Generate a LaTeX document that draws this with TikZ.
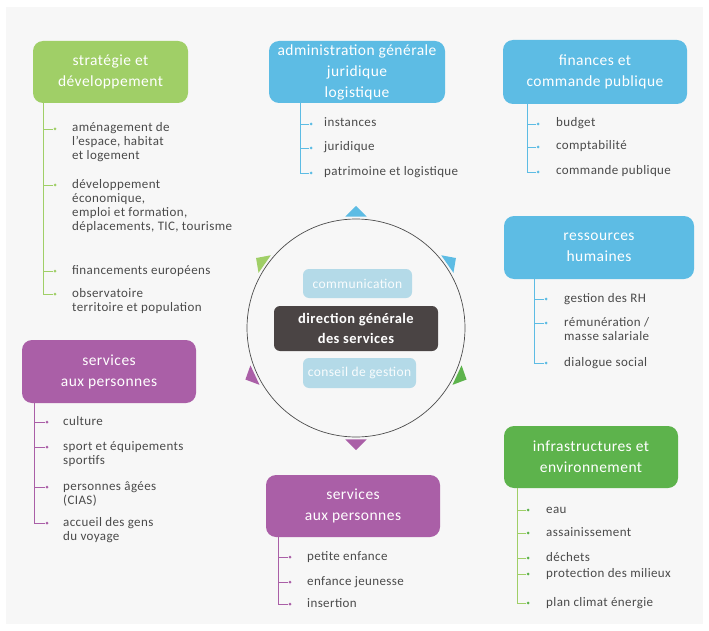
\documentclass[tikz,border=0pt]{standalone}
\usepackage{fontspec}
\setmainfont{Carlito}
\newfontfamily\spaced[LetterSpace=3]{Carlito}
\newfontfamily\titled[LetterSpace=3]{Carlito}
\usetikzlibrary{positioning}
\definecolor{lgreen}{HTML}{A0CF67}
\definecolor{dgreen}{HTML}{5DB34C}
\definecolor{sky}{HTML}{5DBCE4}
\definecolor{plum}{HTML}{AA5FA7}
\definecolor{pale}{HTML}{B4DAE8}
\definecolor{dark}{HTML}{4A4444}
\definecolor{txt}{HTML}{4A4A4A}
\definecolor{bg}{HTML}{F7F7F7}
\tikzset{
  pole/.style={rounded corners=10pt, text=white, align=center, inner sep=0pt,
    font=\titled\fontsize{15.5}{21}\selectfont},
  inbox/.style={rounded corners=6pt, align=center, inner sep=0pt},
  item/.style={anchor=north west, text=txt, align=left, inner sep=0pt,
    font=\spaced\fontsize{13}{14}\selectfont},
  dot/.style={circle, inner sep=0pt, minimum size=3pt},
  twig/.style={line width=0.8pt}
}
\begin{document}
\begin{tikzpicture}[x=1pt, y=-1pt]
\useasboundingbox (0,0) rectangle (709,631);
\fill[bg] (6,7) rectangle (703,624);

\node[circle, draw=black!70, line width=0.7pt, minimum size=218pt] (ring) at (356,328) {};
\foreach \a/\c in {270/sky, -35/sky, 215/lgreen, 155/plum, 25/dgreen, 90/plum}
  \fill[\c, shift={(ring.center)}] (\a-5.5:112) -- (\a:122) -- (\a+5.5:112) -- cycle;

\node[inbox, fill=pale, text=white!92!pale, minimum width=109pt, minimum height=29pt,
  font=\titled\fontsize{13.5}{15}\selectfont] (comm) at (357.5,283.5) {communication};
\node[inbox, fill=dark, text=white, minimum width=164pt, minimum height=45pt,
  font=\titled\fontsize{14.5}{20}\selectfont\bfseries] (dgs) at (356,328.5) {direction générale\\des services};
\node[inbox, fill=pale, text=white!92!pale, minimum width=113pt, minimum height=30pt,
  font=\titled\fontsize{13.5}{15}\selectfont] (cdg) at (359.5,373) {conseil de gestion};

\node[pole, fill=lgreen, minimum width=155pt, minimum height=62pt] (strat) at (110.5,72) {stratégie et\\développement};
\node[pole, fill=sky, minimum width=176pt, minimum height=62pt] (admin) at (357,72) {administration générale\\juridique\\logistique};
\node[pole, fill=sky, minimum width=184pt, minimum height=64pt] (fin) at (595,72) {finances et\\commande publique};
\node[pole, fill=sky, minimum width=190pt, minimum height=63pt] (rh) at (599,247.5) {ressources\\humaines};
\node[pole, fill=plum, minimum width=174pt, minimum height=63pt] (serv) at (109,371.5) {services\\aux personnes};
\node[pole, fill=plum, minimum width=174pt, minimum height=62pt] (enf) at (353,506) {services\\aux personnes};
\node[pole, fill=dgreen, minimum width=174pt, minimum height=62pt] (infra) at (591,457) {infrastructures et\\environnement};

\coordinate (sT) at (43,0);
\coordinate (aT) at (300,0);
\coordinate (fT) at (527,0);
\coordinate (rT) at (534,0);
\coordinate (pT) at (34,0);
\coordinate (eT) at (278,0);
\coordinate (iT) at (517,0);

\foreach \k/\y/\t in {1/129/{aménagement de\\l’espace, habitat\\et logement},
    2/185/{développement\\économique,\\emploi et formation,\\déplacements, TIC, tourisme},
    3/271/{financements européens}, 4/294/{observatoire\\territoire et population}}{
  \node[dot, fill=lgreen] (sd\k) at (55,\y) {};
  \node[item] (st\k) at (72,\y-7) {\strut\t};
  \draw[lgreen, twig] (sd\k -| sT) -- (sd\k);
}
\draw[lgreen, twig] (strat.south -| sT) -- (sd4 -| sT);

\foreach \k/\y/\t in {1/124/instances, 2/148/juridique, 3/173/patrimoine et logistique}{
  \node[dot, fill=sky] (ad\k) at (311,\y) {};
  \node[item] (at\k) at (324,\y-7) {\strut\t};
  \draw[sky, twig] (ad\k -| aT) -- (ad\k);
}
\draw[sky, twig] (admin.south -| aT) -- (ad3 -| aT);

\foreach \k/\y/\t in {1/124/budget, 2/147/comptabilité, 3/172/commande publique}{
  \node[dot, fill=sky] (fd\k) at (538,\y) {};
  \node[item] (ft\k) at (556,\y-7) {\strut\t};
  \draw[sky, twig] (fd\k -| fT) -- (fd\k);
}
\draw[sky, twig] (fin.south -| fT) -- (fd3 -| fT);

\foreach \k/\y/\t in {1/299/gestion des RH, 2/323/{rémunération /\\masse salariale}, 3/363/dialogue social}{
  \node[dot, fill=sky] (rd\k) at (546,\y) {};
  \node[item] (rt\k) at (564,\y-7) {\strut\t};
  \draw[sky, twig] (rd\k -| rT) -- (rd\k);
}
\draw[sky, twig] (rh.south -| rT) -- (rd3 -| rT);

\foreach \k/\y/\t in {1/422/culture, 2/447/{sport et équipements\\sportifs},
    3/487/{personnes âgées\\(CIAS)}, 4/523/{accueil des gens\\du voyage}}{
  \node[dot, fill=plum] (pd\k) at (47,\y) {};
  \node[item] (pt\k) at (63,\y-7) {\strut\t};
  \draw[plum, twig] (pd\k -| pT) -- (pd\k);
}
\draw[plum, twig] (serv.south -| pT) -- (pd4 -| pT);

\foreach \k/\y/\t in {1/557/petite enfance, 2/582/enfance jeunesse, 3/604/insertion}{
  \node[dot, fill=plum] (ed\k) at (290,\y) {};
  \node[item] (et\k) at (307,\y-7) {\strut\t};
  \draw[plum, twig] (ed\k -| eT) -- (ed\k);
}
\draw[plum, twig] (enf.south -| eT) -- (ed3 -| eT);

\foreach \k/\y/\t in {1/510/eau, 2/533/assainissement, 3/558/déchets,
    4/574/protection des milieux, 5/603/plan climat énergie}{
  \node[dot, fill=dgreen] (id\k) at (528,\y) {};
  \node[item] (it\k) at (546,\y-7) {\strut\t};
  \draw[lgreen, twig] (id\k -| iT) -- (id\k);
}
\draw[lgreen, twig] (infra.south -| iT) -- (id5 -| iT);
\end{tikzpicture}
\end{document}
